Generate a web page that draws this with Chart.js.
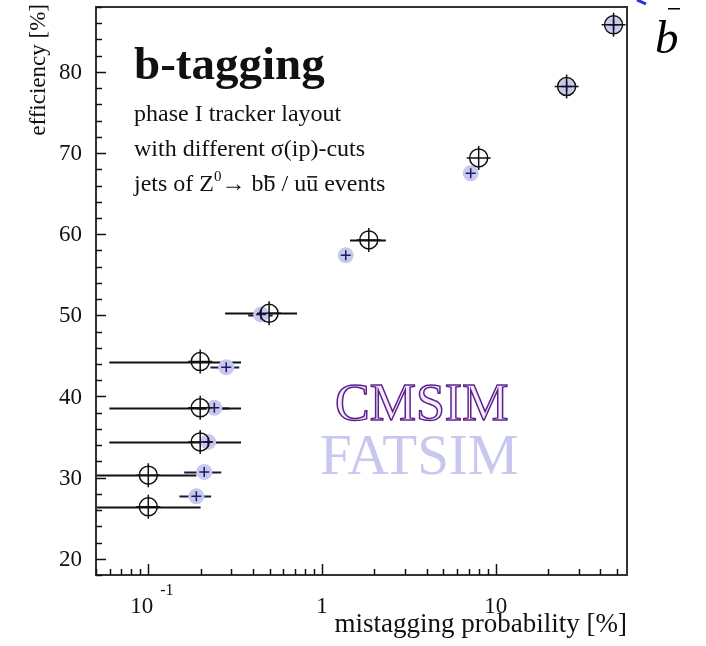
<!doctype html>
<html>
<head>
    <title>b-tagging</title>
    <script src="https://cdn.jsdelivr.net/npm/chart.js@4.4.1/dist/chart.umd.min.js"></script>
    <style>
        html, body { margin: 0; padding: 0; background: #fff; }
        #chartcont { width: 706px; height: 646px; }
    </style>
</head>
<body>
<div id="chartcont"><canvas id="myChart" width="706" height="646"></canvas></div>
<script>
    // CMSIM (full simulation): efficiency vs. mistag rate, with mistag error ranges
    var cmsimX = [0.1, 0.1, 0.199, 0.199, 0.199, 0.496, 1.86, 7.98, 25.6, 47.7];
    var cmsimY = [26.4, 30.3, 34.4, 38.6, 44.3, 50.25, 59.3, 69.4, 78.2, 85.8];
    var cmsimXLow = [0.04, 0.04, 0.0597, 0.0597, 0.0597, 0.277, 1.45, null, null, null];
    var cmsimXHigh = [0.20, 0.189, 0.342, 0.342, 0.342, 0.718, 2.33, null, null, null];

    // FATSIM (fast simulation)
    var fatsimX = [0.189, 0.21, 0.221, 0.24, 0.281, 0.446, 1.37, 7.18, 25.6, 47.7];
    var fatsimY = [27.7, 30.7, 34.4, 38.6, 43.6, 50.1, 57.4, 67.5, 78.2, 85.8];
    var fatsimXLow = [0.151, 0.161, null, 0.19, 0.228, 0.376, null, null, null, null];
    var fatsimXHigh = [0.23, 0.263, null, 0.292, 0.334, 0.52, null, null, null, null];

    var xTickValues = [0.1, 1, 10];
    var xTickLabels = ['10', '1', '10'];
    var xTickExponents = ['-1', '', ''];
    var yTickValues = [20, 30, 40, 50, 60, 70, 80];

    var SERIF = '"Liberation Serif", "DejaVu Serif", serif';
    var INK = '#111';

    function points(xs, ys) {
        var out = [];
        for (var i = 0; i < xs.length; i++) {
            out.push({x: xs[i], y: ys[i]});
        }
        return out;
    }

    function drawErrorBars(ctx, xScale, yScale, xs, ys, lo, hi, color, width) {
        ctx.strokeStyle = color;
        ctx.lineWidth = width;
        for (var i = 0; i < xs.length; i++) {
            if (lo[i] === null) continue;
            var y = Math.round(yScale.getPixelForValue(ys[i])) + 0.5;
            ctx.beginPath();
            ctx.moveTo(xScale.getPixelForValue(lo[i]), y);
            ctx.lineTo(xScale.getPixelForValue(hi[i]), y);
            ctx.stroke();
        }
    }

    // text with optional superscript / overbar pieces
    function drawRichText(ctx, parts, x, y, size) {
        var cx = x;
        for (var i = 0; i < parts.length; i++) {
            var p = parts[i];
            if (p.sup) {
                ctx.font = Math.round(size * 0.62) + 'px ' + SERIF;
                ctx.fillText(p.t, cx, y - size * 0.42);
            } else {
                ctx.font = size + 'px ' + SERIF;
                ctx.fillText(p.t, cx, y);
            }
            var w = ctx.measureText(p.t).width;
            if (p.bar) {
                ctx.fillRect(cx + 1, y - size * 0.62, w - 2, 1.5);
            }
            cx += w;
        }
    }

    var framePlugin = {
        id: 'framePlugin',
        beforeDatasetsDraw: function (chart) {
            var ctx = chart.ctx;
            var area = chart.chartArea;
            var xs = chart.scales.x, ys = chart.scales.y;
            ctx.save();
            ctx.beginPath();
            ctx.rect(area.left, area.top, area.right - area.left, area.bottom - area.top);
            ctx.clip();
            drawErrorBars(ctx, xs, ys, fatsimX, fatsimY, fatsimXLow, fatsimXHigh, '#1a1a40', 2);
            drawErrorBars(ctx, xs, ys, cmsimX, cmsimY, cmsimXLow, cmsimXHigh, INK, 2);
            ctx.restore();
        },
        afterDraw: function (chart) {
            var ctx = chart.ctx;
            var area = chart.chartArea;
            var xs = chart.scales.x, ys = chart.scales.y;
            ctx.save();

            // frame
            ctx.strokeStyle = '#333';
            ctx.lineWidth = 2;
            ctx.strokeRect(area.left, area.top, area.right - area.left, area.bottom - area.top);

            // y ticks, drawn inward
            ctx.strokeStyle = INK;
            ctx.lineWidth = 1.5;
            for (var v = 18; v <= 88; v += 2) {
                var py = Math.round(ys.getPixelForValue(v)) + 0.5;
                var len = (v % 10 === 0) ? 10 : 6;
                ctx.beginPath();
                ctx.moveTo(area.left, py);
                ctx.lineTo(area.left + len, py);
                ctx.stroke();
            }
            // x ticks, drawn inward (log decades)
            for (var dec = 0.01; dec < 100; dec *= 10) {
                for (var m = 1; m < 10; m++) {
                    var val = dec * m;
                    if (val < xs.min || val > xs.max) continue;
                    var px = Math.round(xs.getPixelForValue(val)) + 0.5;
                    var tl = (m === 1) ? 11 : 6;
                    ctx.beginPath();
                    ctx.moveTo(px, area.bottom);
                    ctx.lineTo(px, area.bottom - tl);
                    ctx.stroke();
                }
            }

            // y tick labels
            ctx.fillStyle = INK;
            ctx.font = '23px ' + SERIF;
            ctx.textAlign = 'right';
            ctx.textBaseline = 'middle';
            yTickValues.forEach(function (v) {
                ctx.fillText(String(v), area.left - 14, ys.getPixelForValue(v) + 1);
            });

            // x tick labels
            ctx.textBaseline = 'alphabetic';
            ctx.textAlign = 'center';
            xTickValues.forEach(function (v, i) {
                var px = xs.getPixelForValue(v);
                if (xTickExponents[i]) {
                    ctx.font = '23px ' + SERIF;
                    ctx.textAlign = 'right';
                    ctx.fillText(xTickLabels[i], px + 5, area.bottom + 38);
                    ctx.font = '16px ' + SERIF;
                    ctx.textAlign = 'left';
                    ctx.fillText(xTickExponents[i], px + 12, area.bottom + 20);
                    ctx.textAlign = 'center';
                } else {
                    ctx.font = '23px ' + SERIF;
                    ctx.fillText(xTickLabels[i], px, area.bottom + 38);
                }
            });

            // axis titles
            ctx.font = '27px ' + SERIF;
            ctx.textAlign = 'right';
            ctx.fillText('mistagging probability [%]', area.right, area.bottom + 57);

            ctx.save();
            ctx.translate(45, area.top - 3);
            ctx.rotate(-Math.PI / 2);
            ctx.font = '23px ' + SERIF;
            ctx.textAlign = 'right';
            ctx.fillText('efficiency [%]', 0, 0);
            ctx.restore();

            // headline and description
            ctx.textAlign = 'left';
            ctx.font = 'bold 47px ' + SERIF;
            ctx.fillText('b-tagging', area.left + 38, area.top + 72);
            ctx.font = '24px ' + SERIF;
            ctx.fillText('phase I tracker layout', area.left + 38, area.top + 114);
            ctx.fillText('with different \u03c3(ip)-cuts', area.left + 38, area.top + 149);
            drawRichText(ctx, [
                {t: 'jets of Z'}, {t: '0', sup: true}, {t: '\u2192 b'}, {t: 'b', bar: true},
                {t: ' / u'}, {t: 'u', bar: true}, {t: ' events'}
            ], area.left + 38, area.top + 184, 24);

            // series names
            ctx.font = '52px ' + SERIF;
            ctx.fillStyle = '#f3ecfa';
            ctx.fillText('CMSIM', 335, 420);
            ctx.strokeStyle = '#5b1e8c';
            ctx.lineWidth = 1.5;
            ctx.strokeText('CMSIM', 335, 420);
            ctx.font = '57px ' + SERIF;
            ctx.fillStyle = 'rgb(200, 200, 238)';
            ctx.fillText('FATSIM', 320, 474);

            // b-bar at the top right
            ctx.fillStyle = '#000';
            ctx.font = 'italic 47px ' + SERIF;
            ctx.fillText('b', 655, 53);
            ctx.fillRect(668, 8, 12, 1.5);
            ctx.strokeStyle = '#1f2ee0';
            ctx.lineWidth = 3;
            ctx.beginPath();
            ctx.moveTo(637, 0);
            ctx.lineTo(646, 4);
            ctx.stroke();

            ctx.restore();
        }
    };

    var ctx = document.getElementById('myChart').getContext('2d');
    var myChart = new Chart(ctx, {
        type: 'scatter',
        data: {
            datasets: [
                {
                    label: 'CMSIM cross',
                    data: points(cmsimX, cmsimY),
                    pointStyle: 'cross',
                    pointRadius: 12,
                    borderColor: INK,
                    borderWidth: 1.5,
                    order: 1
                },
                {
                    label: 'CMSIM',
                    data: points(cmsimX, cmsimY),
                    pointStyle: 'circle',
                    pointRadius: 9,
                    borderColor: INK,
                    backgroundColor: 'rgba(0,0,0,0)',
                    borderWidth: 1.5,
                    order: 2
                },
                {
                    label: 'FATSIM cross',
                    data: points(fatsimX, fatsimY),
                    pointStyle: 'cross',
                    pointRadius: 5,
                    borderColor: '#1c1c5a',
                    borderWidth: 1.5,
                    order: 3
                },
                {
                    label: 'FATSIM',
                    data: points(fatsimX, fatsimY),
                    pointStyle: 'circle',
                    pointRadius: 8,
                    borderWidth: 0,
                    backgroundColor: 'rgb(200, 200, 240)',
                    order: 4
                }
            ]
        },
        options: {
            responsive: false,
            animation: false,
            devicePixelRatio: 1,
            layout: {
                autoPadding: false,
                padding: {left: 0, top: 7, right: 79, bottom: 0}
            },
            plugins: {
                legend: {display: false},
                tooltip: {enabled: false}
            },
            scales: {
                x: {
                    type: 'logarithmic',
                    min: 0.05,
                    max: 57,
                    grid: {display: false},
                    border: {display: false},
                    ticks: {display: false},
                    afterFit: function (scale) { scale.height = 71; }
                },
                y: {
                    type: 'linear',
                    min: 18,
                    max: 88,
                    grid: {display: false},
                    border: {display: false},
                    ticks: {display: false},
                    afterFit: function (scale) { scale.width = 96; }
                }
            }
        },
        plugins: [framePlugin]
    });
</script>
</body>
</html>
